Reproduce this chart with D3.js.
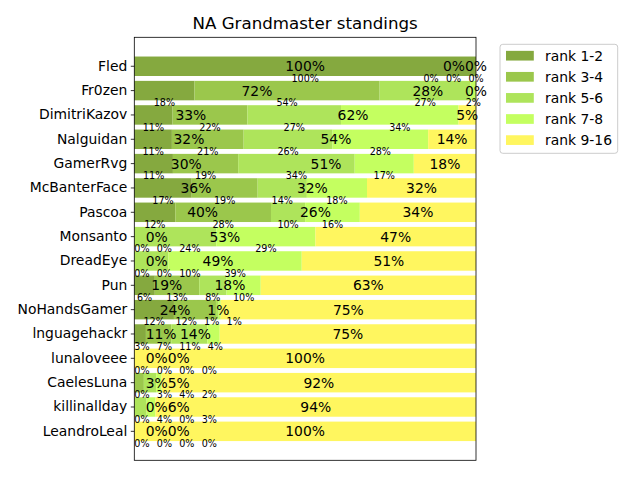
<!DOCTYPE html>
<html><head><meta charset="utf-8">
<script src="https://cdn.jsdelivr.net/npm/d3@7"></script>
<style>body{margin:0;background:#fff} svg{display:block} text{font-family:"DejaVu Sans",sans-serif;fill:#000}</style>
</head><body><svg id="c" width="640" height="480"></svg>
<script>
const players = ["Fled","Fr0zen","DimitriKazov","Nalguidan","GamerRvg","McBanterFace","Pascoa","Monsanto","DreadEye","Pun","NoHandsGamer","lnguagehackr","lunaloveee","CaelesLuna","killinallday","LeandroLeal"];
const rank12  = [100,17.6,11.2,11,11.3,16.8,12,0,0,6,11.6,3.4,0,0,0,0];
const rank34  = [0,54.2,21.9,21,19.1,19.3,28,0,0,13,12.3,7.4,0,2.8,0,0];
const rank56  = [0,26.6,27.4,26,34.1,14.4,10,24,10,8,0.8,10.6,0,3.6,3.6,0];
const rank78  = [0,1.6,34.4,28,17.3,17.6,16,29,39,10,0.6,3.6,0,1.6,2.6,0];
const rank916 = [0,0,5.1,14,18.2,31.9,34,47,51,63,74.7,75,100,92,93.8,100];
const seriesNames = ["rank 1-2","rank 3-4","rank 5-6","rank 7-8","rank 9-16"];
const seriesColors = ["#85a93f","#9bc74c","#aee45b","#c4ff60","#fff65f"];
const groupBounds = [[0,2],[2,4],[4,5]]; // big labels: ranks 1-4, 5-8, 9-16
const titleText = "NA Grandmaster standings";

const svg = d3.select("#c");
const L = 134.3, R = 476, T = 37.3, B = 460.3;
const x = d3.scaleLinear().domain([0,100]).range([L,R]);
const y = d3.scaleBand().domain(players).range([T,B]).paddingInner(0.2).paddingOuter(0.79);
const bw = y.bandwidth(), step = y.step();

const series = [rank12, rank34, rank56, rank78, rank916];
const table = players.map((p,i) => { const o = {player:p}; seriesNames.forEach((s,k)=>o[s]=series[k][i]); return o; });
const stacked = d3.stack().keys(seriesNames)(table);

// bars
svg.append("g").selectAll("g").data(stacked).join("g")
  .attr("fill", (d,k)=>seriesColors[k])
  .selectAll("rect").data(d=>d).join("rect")
  .attr("x", d=>x(d[0])).attr("width", d=>Math.max(0, x(d[1])-x(d[0])))
  .attr("y", d=>y(d.data.player)).attr("height", bw);

// frame
svg.append("rect").attr("x",L).attr("y",T).attr("width",R-L).attr("height",B-T)
  .attr("fill","none").attr("stroke","#000").attr("stroke-width",0.8);

// y axis
const yAxis = d3.axisLeft(y).tickSize(3.5).tickPadding(3.5);
const ga = svg.append("g").attr("transform",`translate(${L},0)`).call(yAxis);
ga.select(".domain").remove();
ga.selectAll(".tick line").attr("stroke","#000").attr("stroke-width",0.8);
ga.selectAll(".tick text").attr("font-size","13.9px").attr("font-family","DejaVu Sans").attr("fill","#000");

// title
svg.append("text").attr("x",(L+R)/2).attr("y",28.6).attr("text-anchor","middle")
  .attr("font-size","16.67px").text(titleText);

// labels
const labels = [];
players.forEach((p,i) => {
  const cum = [0]; for (let k=0;k<5;k++) cum.push(cum[k]+series[k][i]);
  const cy = y(p) + bw/2;
  groupBounds.forEach(([a,b]) => {
    const v = cum[b]-cum[a];
    labels.push({t: Math.round(v)+"%", x0: x((cum[a]+cum[b])/2), y: cy, fs: 13.9, big: true, row: i});
  });
  for (let k=0;k<4;k++) {
    const v = series[k][i];
    labels.push({t: Math.round(v)+"%", x0: x((cum[k]+cum[k+1])/2), y: cy + step/2, fs: 9.6, big: false, row: i});
  }
});
const lg = svg.append("g");
const tnodes = lg.selectAll("text").data(labels).join("text")
  .attr("text-anchor","middle").attr("dominant-baseline","central")
  .attr("font-size", d=>d.fs+"px").attr("y", d=>d.y).attr("x", d=>d.x0).text(d=>d.t);
tnodes.each(function(d){ d.w = this.getComputedTextLength() - 0.16*d.fs; d.x = d.x0; });

// x-only overlap relaxation within each row and label size
for (let it=0; it<400; it++) {
  let moved = false;
  for (let i=0;i<labels.length;i++) for (let j=i+1;j<labels.length;j++) {
    const a = labels[i], b = labels[j];
    if (a.row !== b.row || a.big !== b.big) continue;
    const sep = (a.w+b.w)/2 + (a.big ? 2.4 : 9);
    const dx = b.x - a.x;
    const ov = sep - Math.abs(dx);
    if (ov > 0.3) {
      const dir = dx >= 0 ? 1 : -1;
      a.x -= dir*ov*0.3; b.x += dir*ov*0.3; moved = true;
    }
  }
  labels.forEach(d => {
    const lw = d.w/2 + (d.big ? 12.5 : 0.8);
    if (d.x - lw < L) d.x = L + lw;
    if (d.x > R) d.x = R;
  });
  if (!moved) break;
}
tnodes.attr("x", d=>d.x);

// legend
const leg = svg.append("g");
leg.append("rect").attr("x",500).attr("y",44.3).attr("width",117.7).attr("height",109)
  .attr("rx",2.8).attr("fill","#fff").attr("fill-opacity",0.8).attr("stroke","#cccccc").attr("stroke-width",1);
seriesNames.forEach((s,k) => {
  const cy = 55.7 + k*21.1;
  leg.append("rect").attr("x",506).attr("y",cy-4.85).attr("width",27.8).attr("height",9.7).attr("fill",seriesColors[k]);
  leg.append("text").attr("x",545).attr("y",cy).attr("dominant-baseline","central").attr("font-size","13.9px").text(s);
});
</script></body></html>
